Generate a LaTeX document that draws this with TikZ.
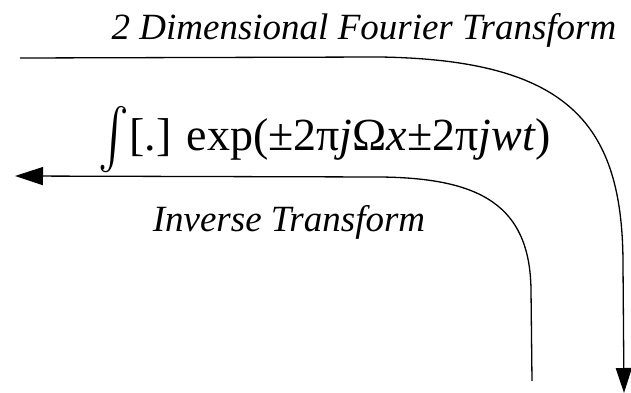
\documentclass[tikz,border=0pt]{standalone}
\usepackage{fontspec}
\setmainfont{Liberation Serif}
\usepackage{unicode-math}
\setmathfont{Latin Modern Math}
\usetikzlibrary{arrows.meta}

\begin{document}
\begin{tikzpicture}[x=1pt, y=-1pt]
      \useasboundingbox (0,0) rectangle (631,393);
      \tikzset{lbl/.style={font=\fontsize{37}{42}\selectfont\itshape, inner sep=0pt}}
      \node[lbl] (title) at (364,30) {2 Dimensional Fourier Transform};
      \node[inner sep=0pt, font=\fontsize{46}{50}\selectfont] (kernel) at (325,140)
        {\raisebox{-4pt}{\scalebox{1}[1.3]{$\int$}}[.] exp(±2π\textit{j}Ω\textit{x}±2π\textit{jwt})};
      \node[lbl] (inv) at (289,222) {Inverse Transform};
      \coordinate (fwdA) at (20,58);
      \coordinate (fwdB) at (624,393);
      \coordinate (invA) at (532,381);
      \coordinate (invB) at (15,176);
      \draw[-{Triangle[length=25pt, width=16pt]}, line width=1.3pt] (fwdA) -- (380,57)
        .. controls (570,60) and (623,125) .. (623,265) -- (fwdB);
      \draw[-{Triangle[length=28pt, width=18pt]}, line width=1.3pt] (invA) -- (531,290)
        .. controls (530,205) and (480,178) .. (380,177) -- (invB);
    \end{tikzpicture}
\end{document}
